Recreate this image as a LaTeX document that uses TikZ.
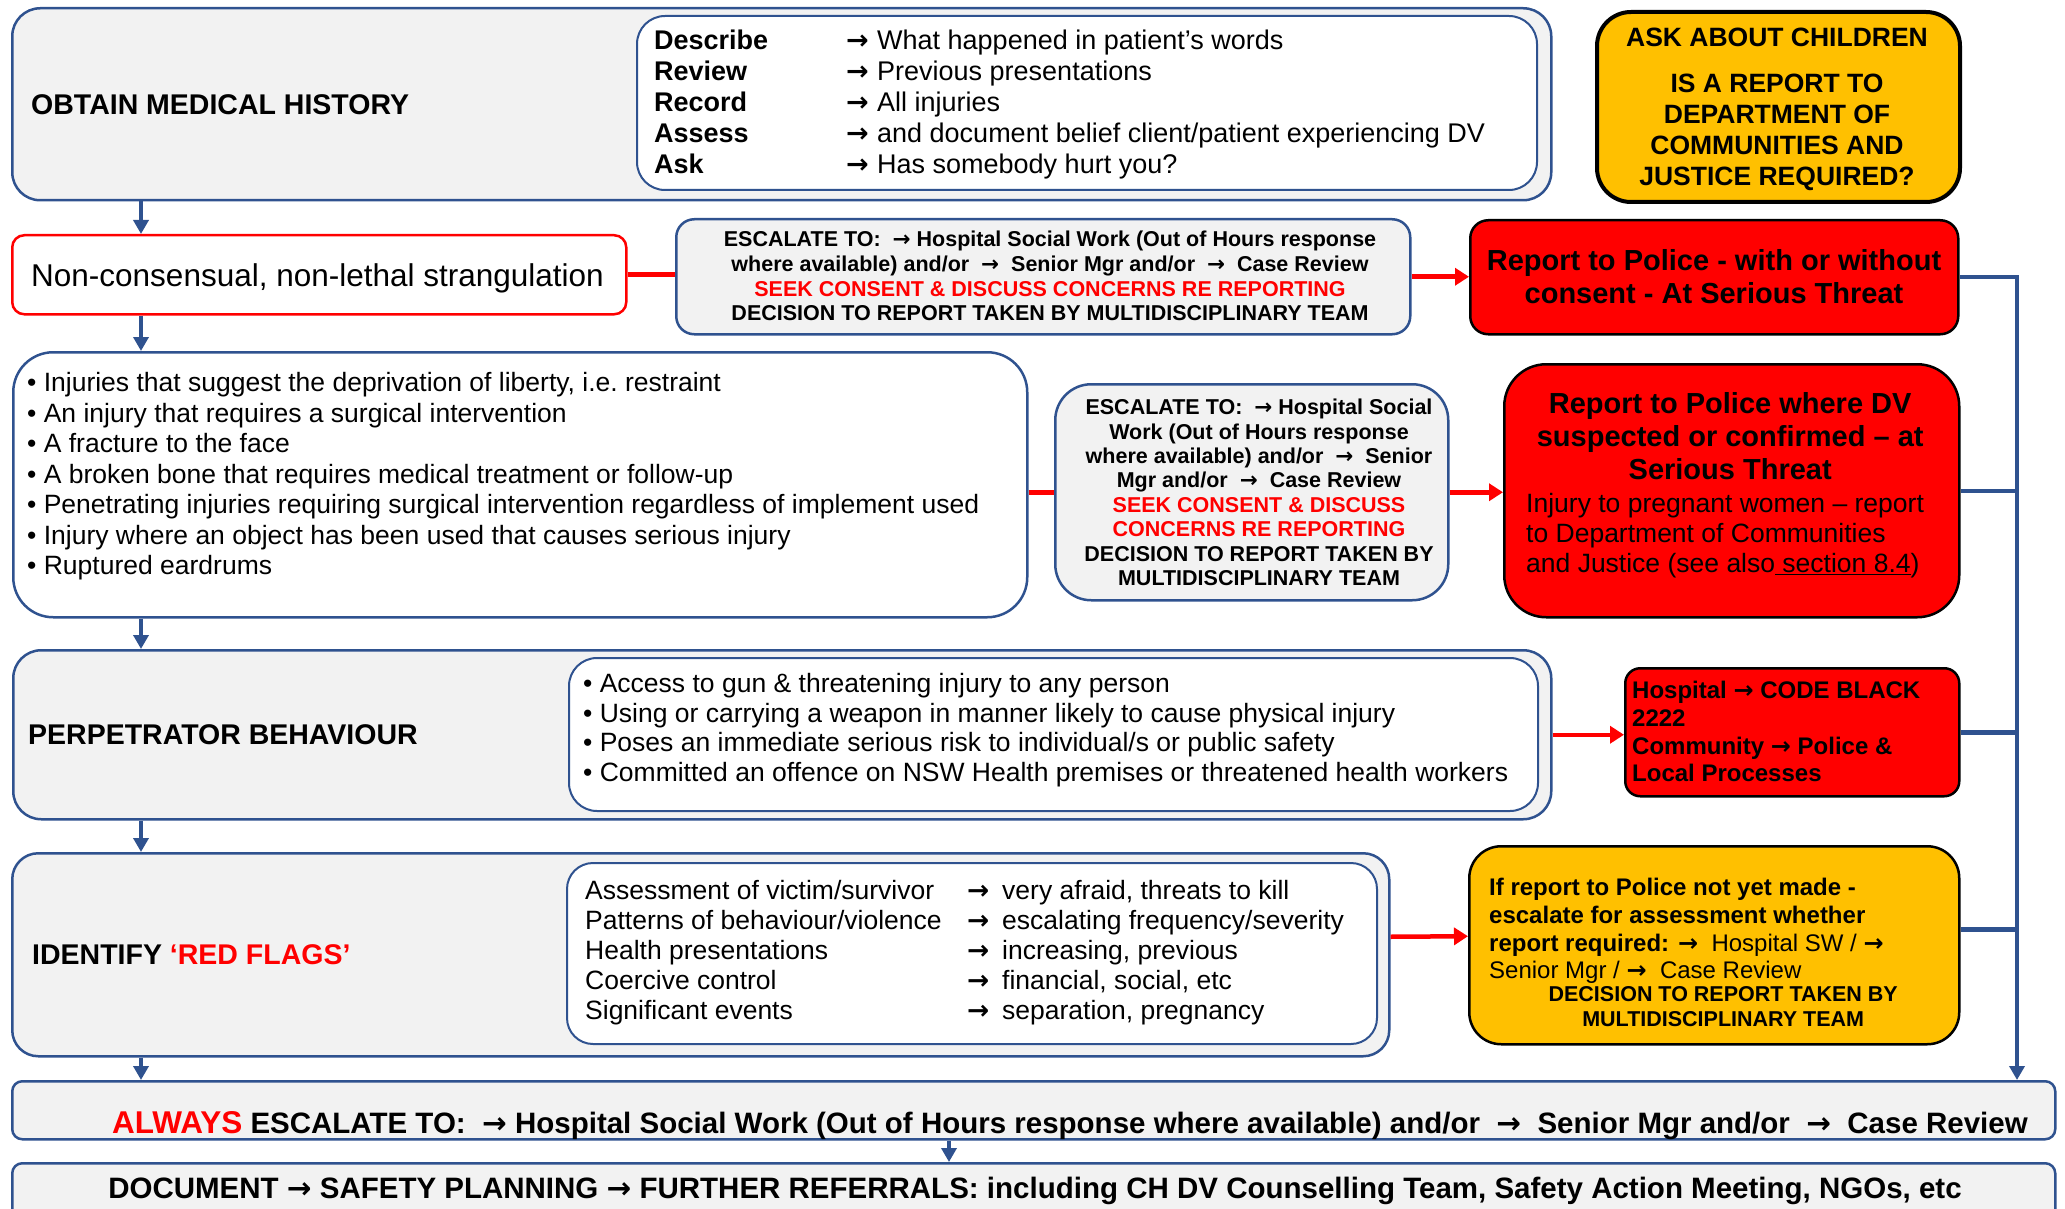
\documentclass[tikz,border=0pt]{standalone}
\usepackage{fontspec}
\setmainfont{Liberation Sans}
\newfontfamily\arrowfont{DejaVu Sans}
\usepackage{array}
\usetikzlibrary{arrows.meta,positioning}
\definecolor{boxblue}{HTML}{2F528F}
\definecolor{boxgray}{HTML}{F2F2F2}
\definecolor{alertred}{HTML}{FF0000}
\definecolor{amberfill}{HTML}{FFC000}
\newcommand{\fs}[2]{\fontsize{#1}{#2}\selectfont}
\newcommand{\flecha}{{\arrowfont\bfseries →}}
\newcommand{\arrowcell}[1]{\makebox[#1][l]{\flecha}}
\tikzstyle{panel} = [draw=boxblue, fill=boxgray, line width=2.5pt, rectangle, rounded corners=28pt, anchor=north west, inner sep=0pt]
\tikzstyle{inset} = [draw=boxblue, fill=white, line width=2pt, rectangle, rounded corners=28pt, anchor=north west, inner sep=0pt]
\tikzstyle{alert} = [draw=black, fill=alertred, line width=2.5pt, rectangle, rounded corners=18pt, anchor=north west, inner sep=0pt]
\tikzstyle{ambox} = [draw=black, fill=amberfill, line width=2.5pt, rectangle, rounded corners=32pt, anchor=north west, inner sep=0pt]
\tikzstyle{redframe} = [draw=alertred, fill=white, line width=2.5pt, rectangle, rounded corners=12pt, anchor=north west, inner sep=0pt]
\tikzstyle{heading} = [font=\fs{28.5}{33}\bfseries, inner sep=0pt]
\tikzstyle{body} = [font=\fs{26.5}{30}, inner sep=0pt, anchor=base west]
\tikzstyle{flow} = [draw=boxblue, line width=4pt, -{Triangle[length=14pt,width=15pt]}]
\tikzstyle{rail} = [draw=boxblue, line width=4.5pt]
\tikzstyle{redline} = [draw=alertred, line width=4.5pt]
\tikzstyle{redflow} = [redline, -{Triangle[length=14pt,width=17pt]}]

\begin{document}
\begin{tikzpicture}[x=1pt,y=-1pt]
	\useasboundingbox (0,0) rectangle (2065,1209);
	\node[panel, minimum width=1539pt, minimum height=192pt] (hist) at (11,7) {};
	\node[inset, minimum width=900pt, minimum height=174pt] (histlist) at (636,15) {};
	\node[ambox, line width=4pt, rounded corners=34pt, minimum width=363pt, minimum height=190pt] (children) at (1595,10) {};
	\node[redframe, minimum width=614pt, minimum height=79pt] (strang) at (11,234) {};
	\node[panel, rounded corners=18pt, minimum width=734pt, minimum height=115pt] (esc1) at (675,218) {};
	\node[alert, minimum width=488pt, minimum height=114pt] (police1) at (1469,219) {};
	\node[inset, line width=2.5pt, rounded corners=40pt, minimum width=1014pt, minimum height=265pt] (injuries) at (12,351) {};
	\node[panel, rounded corners=36pt, minimum width=393pt, minimum height=216pt] (esc2) at (1054,383) {};
	\node[alert, rounded corners=42pt, minimum width=455pt, minimum height=253pt] (police2) at (1503,363) {};
	\node[panel, minimum width=1538pt, minimum height=169pt] (perp) at (12,649) {};
	\node[inset, minimum width=969pt, minimum height=153pt] (perplist) at (568,657) {};
	\node[alert, rounded corners=15pt, minimum width=334pt, minimum height=128pt] (codeblack) at (1624,667) {};
	\node[panel, rounded corners=26pt, minimum width=1377pt, minimum height=203pt] (flags) at (11,852) {};
	\node[inset, rounded corners=26pt, minimum width=810pt, minimum height=181pt] (flaglist) at (566,862) {};
	\node[ambox, minimum width=490pt, minimum height=198pt] (ifreport) at (1468,845) {};
	\node[panel, rounded corners=10pt, minimum width=2043pt, minimum height=58pt] (always) at (11,1080) {};
	\node[panel, rounded corners=10pt, minimum width=2043pt, minimum height=58pt] (document) at (11,1162) {};

	\node[heading, right=20pt] (histtitle) at (hist.west) {OBTAIN MEDICAL HISTORY};
	\node[body, font=\fs{27}{31}] (histrows) at (654,50) {\begin{tabular}[t]{@{}>{\bfseries}p{192pt}@{}l@{}}
		Describe & \arrowcell{31pt}What happened in patient’s words\\
		Review & \arrowcell{31pt}Previous presentations\\
		Record & \arrowcell{31pt}All injuries\\
		Assess & \arrowcell{31pt}and document belief client/patient experiencing DV\\
		Ask & \arrowcell{31pt}Has somebody hurt you?
	\end{tabular}};
	\node[font=\fs{26.5}{31}\bfseries, inner sep=0pt, anchor=base] (childrentext) at (1777,46.5) {\begin{tabular}[t]{@{}c@{}}
		ASK ABOUT CHILDREN\\[15pt]
		IS A REPORT TO\\ DEPARTMENT OF\\ COMMUNITIES AND\\ JUSTICE REQUIRED?
	\end{tabular}};
	\node[font=\fs{31.5}{36}, inner sep=0pt, anchor=base west] (strangtext) at (31,287) {Non-consensual, non-lethal strangulation};
	\node[font=\fs{21.5}{24.7}\bfseries, inner sep=0pt, anchor=base] (esc1text) at (1050,246.7) {\begin{tabular}[t]{@{}c@{}}
		ESCALATE TO:\ \ \flecha\ Hospital Social Work (Out of Hours response\\
		where available) and/or\ \ \flecha\ \ Senior Mgr and/or\ \ \flecha\ \ Case Review\\
		\textcolor{alertred}{SEEK CONSENT \& DISCUSS CONCERNS RE REPORTING}\\
		DECISION TO REPORT TAKEN BY MULTIDISCIPLINARY TEAM
	\end{tabular}};
	\node[font=\fs{29}{33}\bfseries, inner sep=0pt, anchor=base] (police1text) at (1714,270.4) {\begin{tabular}[t]{@{}c@{}}
		Report to Police - with or without\\ consent - At Serious Threat
	\end{tabular}};
	\node[body, font=\fs{26.5}{30.5}] (injurylist) at (27,391.5) {\begin{tabular}[t]{@{}l@{}}
		• Injuries that suggest the deprivation of liberty, i.e.\ restraint\\
		• An injury that requires a surgical intervention\\
		• A fracture to the face\\
		• A broken bone that requires medical treatment or follow-up\\
		• Penetrating injuries requiring surgical intervention regardless of implement used\\
		• Injury where an object has been used that causes serious injury\\
		• Ruptured eardrums
	\end{tabular}};
	\node[font=\fs{21.5}{24.43}\bfseries, inner sep=0pt, anchor=base] (esc2text) at (1259,414.7) {\begin{tabular}[t]{@{}c@{}}
		ESCALATE TO:\ \ \flecha\ Hospital Social\\
		Work (Out of Hours response\\
		where available) and/or\ \ \flecha\ \ Senior\\
		Mgr and/or\ \ \flecha\ \ Case Review\\
		\textcolor{alertred}{SEEK CONSENT \& DISCUSS}\\
		\textcolor{alertred}{CONCERNS RE REPORTING}\\
		DECISION TO REPORT TAKEN BY\\
		MULTIDISCIPLINARY TEAM
	\end{tabular}};
	\node[body] (police2text) at (1526,413.4) {\begin{tabular}[t]{@{}p{408pt}@{}}
		\multicolumn{1}{@{}c@{}}{\fs{29}{33}\bfseries Report to Police where DV}\\[3pt]
		\multicolumn{1}{@{}c@{}}{\fs{29}{33}\bfseries suspected or confirmed – at}\\[3pt]
		\multicolumn{1}{@{}c@{}}{\fs{29}{33}\bfseries Serious Threat}\\[3.5pt]
		Injury to pregnant women – report\\
		to Department of Communities\\
		and Justice (see also\underline{ section 8.4})
	\end{tabular}};

	\node[heading, right=16pt] (perptitle) at (perp.west) {PERPETRATOR BEHAVIOUR};
	\node[body, font=\fs{26.5}{29.7}] (perpitems) at (583,692.5) {\begin{tabular}[t]{@{}l@{}}
		• Access to gun \& threatening injury to any person\\
		• Using or carrying a weapon in manner likely to cause physical injury\\
		• Poses an immediate serious risk to individual/s or public safety\\
		• Committed an offence on NSW Health premises or threatened health workers
	\end{tabular}};
	\node[body, font=\fs{24}{27.7}\bfseries] (codetext) at (1632,698.6) {\begin{tabular}[t]{@{}l@{}}
		Hospital \flecha\ CODE BLACK\\ 2222\\ Community \flecha\ Police \&\\ Local Processes
	\end{tabular}};

	\node[heading, right=21pt] (flagstitle) at (flags.west) {IDENTIFY \textcolor{alertred}{‘RED FLAGS’}};
	\node[body] (flagrows) at (585,899.5) {\begin{tabular}[t]{@{}p{382pt}@{}l@{}}
		Assessment of victim/survivor & \arrowcell{35pt}very afraid, threats to kill\\
		Patterns of behaviour/violence & \arrowcell{35pt}escalating frequency/severity\\
		Health presentations & \arrowcell{35pt}increasing, previous\\
		Coercive control & \arrowcell{35pt}financial, social, etc\\
		Significant events & \arrowcell{35pt}separation, pregnancy
	\end{tabular}};
	\node[body, font=\fs{24}{27.7}] (ifreporttext) at (1489,895.6) {\begin{tabular}[t]{@{}p{468pt}@{}}
		\textbf{If report to Police not yet made -}\\
		\textbf{escalate for assessment whether}\\
		\textbf{report required:} \flecha\ \ Hospital SW / \flecha\\
		Senior Mgr / \flecha\ \ Case Review\\[-4.7pt]
		\multicolumn{1}{@{}c@{}}{\fs{21.5}{25}\bfseries DECISION TO REPORT TAKEN BY}\\[-2.7pt]
		\multicolumn{1}{@{}c@{}}{\fs{21.5}{25}\bfseries MULTIDISCIPLINARY TEAM}
	\end{tabular}};

	\node[font=\fs{29.5}{34}\bfseries, inner sep=0pt, anchor=base west] (alwaystext) at (112,1133.6) {\textcolor{alertred}{\fs{31.5}{34}ALWAYS} ESCALATE TO:\ \ \flecha\ Hospital Social Work (Out of Hours response where available) and/or\ \ \flecha\ \ Senior Mgr and/or\ \ \flecha\ \ Case Review};
	\node[font=\fs{29.5}{34}\bfseries, inner sep=0pt, anchor=base] (documenttext) at (1035,1198.6) {DOCUMENT \flecha\ SAFETY PLANNING \flecha\ FURTHER REFERRALS: including CH DV Counselling Team, Safety Action Meeting, NGOs, etc};

	\coordinate (spine) at (141,0);
	\coordinate (railx) at (2017,0);
	\coordinate (docx) at (949,0);
	\draw[flow] (hist.south -| spine) -- (strang.north -| spine);
	\draw[flow] (strang.south -| spine) -- (injuries.north -| spine);
	\draw[flow] (injuries.south -| spine) -- (perp.north -| spine);
	\draw[flow] (perp.south -| spine) -- (flags.north -| spine);
	\draw[flow] (flags.south -| spine) -- (always.north -| spine);
	\draw[flow] (always.south -| docx) -- (document.north -| docx);

	\draw[redline] (strang.east) -- (strang.east -| esc1.west);
	\draw[redflow] (esc1.east) -- (esc1.east -| police1.west);
	\draw[redline] (injuries.east |- esc2.west) -- (esc2.west);
	\draw[redflow] (esc2.east) -- (esc2.east -| police2.west);
	\draw[redflow] (perp.east) -- (perp.east -| codeblack.west);
	\draw[redflow] ([yshift=18pt]flags.east) -- ([yshift=9pt]ifreport.west);

	\coordinate (ifreportout) at ([yshift=16pt]ifreport.east);
	\draw[rail, -{Triangle[length=14pt,width=15pt]}] (police1.east) -| (railx |- always.north);
	\draw[rail] (police2.east) -- (police2.east -| railx);
	\draw[rail] (codeblack.east) -- (codeblack.east -| railx);
	\draw[rail] (ifreportout) -- (ifreportout -| railx);
\end{tikzpicture}
\end{document}
